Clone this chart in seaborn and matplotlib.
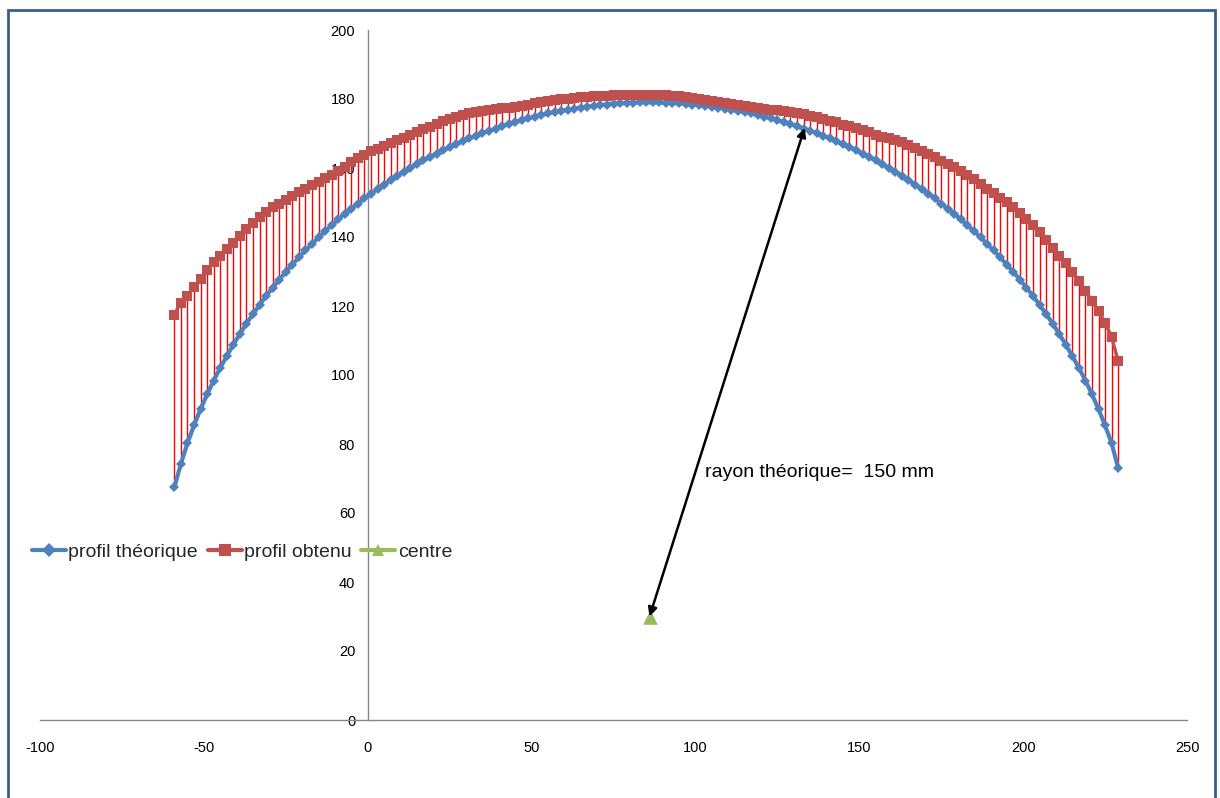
import matplotlib
matplotlib.use("Agg")
import matplotlib.pyplot as plt
from matplotlib.lines import Line2D
from matplotlib.patches import Rectangle
import seaborn as sns

# abscisses des points de mesure (mm)
x_pos = [-59, -57, -55, -53, -51, -49, -47, -45, -43, -41,
         -39, -37, -35, -33, -31, -29, -27, -25, -23, -21,
         -19, -17, -15, -13, -11, -9, -7, -5, -3, -1,
         1, 3, 5, 7, 9, 11, 13, 15, 17, 19,
         21, 23, 25, 27, 29, 31, 33, 35, 37, 39,
         41, 43, 45, 47, 49, 51, 53, 55, 57, 59,
         61, 63, 65, 67, 69, 71, 73, 75, 77, 79,
         81, 83, 85, 87, 89, 91, 93, 95, 97, 99,
         101, 103, 105, 107, 109, 111, 113, 115, 117, 119,
         121, 123, 125, 127, 129, 131, 133, 135, 137, 139,
         141, 143, 145, 147, 149, 151, 153, 155, 157, 159,
         161, 163, 165, 167, 169, 171, 173, 175, 177, 179,
         181, 183, 185, 187, 189, 191, 193, 195, 197, 199,
         201, 203, 205, 207, 209, 211, 213, 215, 217, 219,
         221, 223, 225, 227, 229]

theo_y = [67.4, 74.3, 80.2, 85.4, 90.1, 94.4, 98.4, 102.1, 105.5, 108.8,
          111.9, 114.9, 117.7, 120.3, 122.9, 125.3, 127.6, 129.9, 132.0, 134.1,
          136.1, 138.0, 139.9, 141.7, 143.4, 145.1, 146.7, 148.2, 149.7, 151.2,
          152.6, 153.9, 155.2, 156.5, 157.7, 158.9, 160.0, 161.1, 162.2, 163.2,
          164.2, 165.1, 166.0, 166.9, 167.7, 168.6, 169.3, 170.1, 170.8, 171.4,
          172.1, 172.7, 173.3, 173.8, 174.4, 174.9, 175.3, 175.8, 176.2, 176.5,
          176.9, 177.2, 177.5, 177.8, 178.0, 178.2, 178.4, 178.6, 178.7, 178.8,
          178.9, 179.0, 179.0, 179.0, 179.0, 178.9, 178.8, 178.7, 178.6, 178.4,
          178.2, 178.0, 177.8, 177.5, 177.2, 176.9, 176.5, 176.2, 175.8, 175.3,
          174.9, 174.4, 173.8, 173.3, 172.7, 172.1, 171.4, 170.8, 170.1, 169.3,
          168.6, 167.7, 166.9, 166.0, 165.1, 164.2, 163.2, 162.2, 161.1, 160.0,
          158.9, 157.7, 156.5, 155.2, 153.9, 152.6, 151.2, 149.7, 148.2, 146.7,
          145.1, 143.4, 141.7, 139.9, 138.0, 136.1, 134.1, 132.0, 129.9, 127.6,
          125.3, 122.9, 120.3, 117.7, 114.9, 111.9, 108.8, 105.5, 102.1, 98.4,
          94.4, 90.1, 85.4, 80.2, 73.0]

obt_y = [117.5, 121.0, 123.0, 125.5, 127.8, 130.5, 132.8, 134.6, 136.5, 138.4,
         140.3, 142.2, 144.0, 145.8, 147.3, 148.6, 149.7, 150.8, 151.8, 152.9,
         154.0, 155.0, 156.0, 157.0, 158.0, 159.2, 160.4, 161.6, 162.8, 163.8,
         164.8, 165.6, 166.5, 167.3, 168.1, 168.8, 169.6, 170.4, 171.2, 172.0,
         172.8, 173.5, 174.1, 174.8, 175.4, 175.8, 176.2, 176.6, 176.9, 177.1,
         177.3, 177.5, 177.8, 178.1, 178.4, 178.7, 179.0, 179.3, 179.6, 179.9,
         180.1, 180.3, 180.5, 180.6, 180.8, 180.9, 181.0, 181.1, 181.2, 181.2,
         181.3, 181.3, 181.3, 181.3, 181.2, 181.1, 181.0, 180.8, 180.6, 180.4,
         180.1, 179.8, 179.5, 179.2, 178.9, 178.6, 178.3, 178.0, 177.7, 177.4,
         177.1, 176.9, 176.7, 176.4, 176.2, 176.0, 175.6, 175.2, 174.7, 174.2,
         173.7, 173.2, 172.6, 172.1, 171.6, 171.1, 170.3, 169.6, 169.0, 168.6,
         168.2, 167.4, 166.6, 165.8, 165.0, 164.0, 163.1, 162.1, 161.1, 160.2,
         159.1, 157.9, 156.7, 155.4, 154.0, 152.7, 151.4, 150.1, 148.7, 147.0,
         145.2, 143.4, 141.5, 139.2, 136.8, 134.6, 132.6, 130.0, 127.3, 124.4,
         121.5, 118.5, 115.2, 111.0, 104.0]

centre_x = [86]
centre_y = [30]
rayon_pt = (133.3, 171.6)

x_ticks = [-100, -50, 0, 50, 100, 150, 200, 250]
y_ticks = [0, 20, 40, 60, 80, 100, 120, 140, 160, 180, 200]

BLUE = "#4F81BD"
RED = "#C0504D"
GREEN = "#9BBB59"

sns.set_style("white")
plt.rcParams['font.family'] = ['Liberation Sans', 'DejaVu Sans']
plt.rcParams['axes.unicode_minus'] = False

fig = plt.figure(figsize=(12.2, 7.98), dpi=100)
ax = fig.add_axes([40 / 1220, 78 / 798, 1147 / 1220, 690 / 798])

# traits verticaux entre les deux profils
ax.vlines(x_pos, theo_y, obt_y, colors="#FF0000", linewidth=1.0, zorder=2)

sns.lineplot(x=x_pos, y=theo_y, sort=False, estimator=None, ax=ax,
             color=BLUE, linewidth=3.0, marker="D", markersize=5.5,
             markeredgewidth=0, zorder=3)
sns.lineplot(x=x_pos, y=obt_y, sort=False, estimator=None, ax=ax,
             color=RED, linewidth=2.5, marker="s", markersize=6.5,
             markeredgewidth=0, zorder=3)
sns.scatterplot(x=centre_x, y=centre_y, ax=ax, color=GREEN, marker="^",
                s=110, linewidth=0, zorder=4)

ax.annotate("", xy=(centre_x[0], centre_y[0]), xytext=rayon_pt,
            arrowprops=dict(arrowstyle="<|-|>", color="black", lw=1.8,
                            mutation_scale=13, shrinkA=0, shrinkB=0),
            zorder=5)
ax.text(103, 71.6, "rayon théorique=  150 mm", fontsize=14,
        va="center", ha="left", color="black")

ax.set_xlim(-100, 250)
ax.set_ylim(0, 200)
ax.set_xticks(x_ticks)
ax.set_yticks(y_ticks)
ax.spines["left"].set_position(("data", 0))
ax.spines["bottom"].set_position(("data", 0))
for side in ["top", "right"]:
    ax.spines[side].set_visible(False)
for side in ["left", "bottom"]:
    ax.spines[side].set_color("#868686")
    ax.spines[side].set_linewidth(1.0)
ax.tick_params(axis="both", length=0, labelsize=10.5, colors="black")
ax.tick_params(axis="y", pad=9)
ax.tick_params(axis="x", pad=15)
ax.set_xlabel("")
ax.set_ylabel("")

handles = [
    Line2D([], [], color=BLUE, lw=3, marker="D", markersize=7, markeredgewidth=0),
    Line2D([], [], color=RED, lw=3, marker="s", markersize=9, markeredgewidth=0),
    Line2D([], [], color=GREEN, lw=3, marker="^", markersize=9, markeredgewidth=0),
]
labels = ["profil théorique", "profil obtenu", "centre"]
ax.legend(handles, labels, loc="center left", bbox_to_anchor=(-0.007, 0.2435),
          ncol=3, frameon=False, fontsize=14, handlelength=1.75,
          handletextpad=0.12, columnspacing=0.5, borderpad=0, borderaxespad=0)

# cadre bleu du graphique
fig.patches.append(Rectangle((8 / 1220, -0.05), 1207 / 1220, 788 / 798 + 0.05,
                             transform=fig.transFigure, fill=False,
                             edgecolor="#385D8A", linewidth=2.0))

fig.savefig("out.png", dpi=100)
